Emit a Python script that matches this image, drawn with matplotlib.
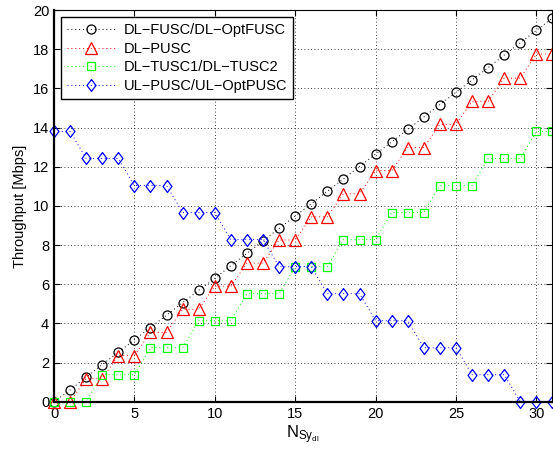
import matplotlib
matplotlib.use("Agg")
import matplotlib.pyplot as plt

plt.rcParams['font.family'] = ['Liberation Sans', 'DejaVu Sans']
plt.rcParams['mathtext.fontset'] = 'custom'
plt.rcParams['mathtext.rm'] = 'Liberation Sans'

n_sy = list(range(32))

dl_fusc = [0, 0.6, 1.26, 1.9, 2.53, 3.16, 3.79, 4.42, 5.06, 5.69, 6.3, 6.95,
           7.58, 8.22, 8.85, 9.48, 10.11, 10.74, 11.38, 12.01, 12.64, 13.27,
           13.9, 14.54, 15.17, 15.8, 16.43, 17.06, 17.7, 18.33, 18.96, 19.59]
dl_pusc = [0, 0, 1.18, 1.18, 2.36, 2.36, 3.54, 3.54, 4.72, 4.72, 5.9, 5.9,
           7.08, 7.08, 8.26, 8.26, 9.44, 9.44, 10.62, 10.62, 11.8, 11.8,
           12.98, 12.98, 14.16, 14.16, 15.34, 15.34, 16.52, 16.52, 17.75, 17.75]
dl_tusc = [0, 0, 0, 1.38, 1.38, 1.38, 2.76, 2.76, 2.76, 4.14, 4.14, 4.14,
           5.52, 5.52, 5.52, 6.9, 6.9, 6.9, 8.28, 8.28, 8.28, 9.66, 9.66, 9.66,
           11.04, 11.04, 11.04, 12.42, 12.42, 12.42, 13.8, 13.8]
ul_pusc = [13.8, 13.8, 12.42, 12.42, 12.42, 11.04, 11.04, 11.04, 9.66, 9.66,
           9.66, 8.28, 8.28, 8.28, 6.9, 6.9, 6.9, 5.52, 5.52, 5.52, 4.14, 4.14,
           4.14, 2.76, 2.76, 2.76, 1.38, 1.38, 1.38, 0, 0, 0]

labels = ["DL\u2212FUSC/DL\u2212OptFUSC", "DL\u2212PUSC",
          "DL\u2212TUSC1/DL\u2212TUSC2", "UL\u2212PUSC/UL\u2212OptPUSC"]

# matlab style diamond, a bit taller than wide
diamond = [(0, 1), (0.75, 0), (0, -1), (-0.75, 0), (0, 1)]

fig = plt.figure(figsize=(5.53, 4.55), dpi=100)
ax = fig.add_axes([0.0977, 0.117, 0.9013, 0.861])

dots = (0, (1, 3))
ax.plot(n_sy, dl_fusc, color='k', ls=dots, lw=0.7, marker='o', ms=6.5,
        mfc='none', mew=0.9, label=labels[0], clip_on=False)
ax.plot(n_sy, dl_pusc, color='r', ls=dots, lw=0.7, marker='^', ms=8,
        mfc='none', mew=0.9, label=labels[1], clip_on=False)
ax.plot(n_sy, dl_tusc, color=(0, 1, 0), ls=dots, lw=0.7, marker='s', ms=5.8,
        mfc='none', mew=0.9, label=labels[2], clip_on=False)
ax.plot(n_sy, ul_pusc, color='b', ls=dots, lw=0.7, marker=diamond, ms=8.6,
        mfc='none', mew=0.9, label=labels[3], clip_on=False)

ax.set_xlim(0, 31)
ax.set_ylim(0, 20)
ax.set_xticks(range(0, 31, 5))
ax.set_yticks(range(0, 21, 2))
ax.grid(True, color='k', ls=(0, (1, 3)), lw=0.6)
ax.tick_params(direction='in', top=True, right=True, length=4, labelsize=10.5)

ax.spines['left'].set_linewidth(1.6)
ax.spines['bottom'].set_linewidth(1.6)
ax.spines['top'].set_linewidth(0.8)
ax.spines['right'].set_linewidth(0.8)

ax.set_xlabel(r'$\mathregular{N_{Sy_{dl}}}$', fontsize=12, labelpad=2)
ax.set_ylabel('Throughput [Mbps]', fontsize=10.5)

leg = ax.legend(loc='upper left', fontsize=10.5, fancybox=False,
                edgecolor='k', framealpha=1, handlelength=3.3,
                handletextpad=0.6, borderpad=0.4, labelspacing=0.32,
                borderaxespad=0.5)
leg.get_frame().set_linewidth(1.0)

fig.savefig("out.png", dpi=100)
